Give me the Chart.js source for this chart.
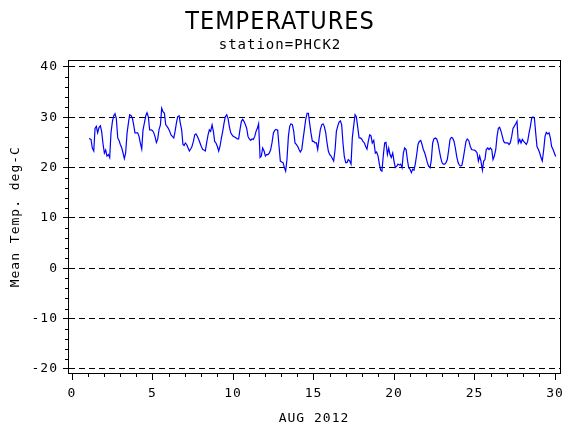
<!DOCTYPE html>
<html>
<head>
<meta charset="utf-8">
<script src="https://cdn.jsdelivr.net/npm/chart.js@4.4.1/dist/chart.umd.min.js"></script>
<style>
  html, body { margin: 0; padding: 0; background: #fff; }
  #chart { display: block; }
</style>
</head>
<body>
<canvas id="chart" width="570" height="430"></canvas>
<script>
// day of August 2012 (fractional) and mean temperature
const days = [
  1.06, 1.18, 1.26, 1.35, 1.43, 1.51, 1.59, 1.68, 1.76, 1.84,
  1.93, 2.01, 2.09, 2.17, 2.26, 2.34, 2.42, 2.51, 2.59, 2.67,
  2.75, 2.84, 2.92, 3.00, 3.09, 3.17, 3.25, 3.33, 3.42, 3.50,
  3.58, 3.67, 3.75, 3.83, 3.91, 4.08, 4.16, 4.24, 4.33, 4.41,
  4.49, 4.58, 4.66, 4.74, 4.82, 4.91, 4.99, 5.07, 5.16, 5.24,
  5.32, 5.40, 5.49, 5.57, 5.65, 5.74, 5.82, 5.90, 5.98, 6.07,
  6.15, 6.23, 6.32, 6.40, 6.48, 6.56, 6.65, 6.73, 6.81, 6.89,
  6.96, 7.04, 7.12, 7.21, 7.29, 7.37, 7.45, 7.54, 7.62, 7.70,
  7.79, 7.87, 7.95, 8.03, 8.12, 8.20, 8.28, 8.36, 8.45, 8.53,
  8.61, 8.70, 8.78, 8.86, 8.94, 9.03, 9.11, 9.19, 9.28, 9.36,
  9.44, 9.52, 9.61, 9.69, 9.77, 9.86, 9.94, 10.02, 10.10, 10.19,
  10.27, 10.35, 10.43, 10.52, 10.60, 10.68, 10.77, 10.85, 10.93, 11.01,
  11.10, 11.18, 11.26, 11.35, 11.43, 11.51, 11.59, 11.64, 11.68, 11.76,
  11.84, 11.93, 12.01, 12.09, 12.17, 12.26, 12.34, 12.42, 12.51, 12.59,
  12.67, 12.75, 12.78,
  12.86, 12.94, 13.02, 13.11, 13.19, 13.27, 13.35, 13.44, 13.52, 13.60,
  13.69, 13.77, 13.85, 13.93, 14.02, 14.10, 14.18, 14.27, 14.35, 14.43,
  14.51, 14.60, 14.68, 14.76, 14.84, 14.93, 15.01, 15.09, 15.18, 15.26,
  15.34, 15.42, 15.51, 15.59, 15.67, 15.76, 15.84, 15.92, 16.00, 16.09,
  16.17, 16.25, 16.34, 16.42, 16.50, 16.58, 16.67, 16.75, 16.83, 16.91,
  17.00, 17.08, 17.16, 17.25, 17.33, 17.41, 17.49, 17.58, 17.66, 17.74,
  17.83, 17.91, 17.99, 18.07, 18.16, 18.24, 18.32, 18.40, 18.49, 18.57,
  18.65, 18.74,
  18.84, 18.92, 19.01, 19.09, 19.17, 19.25, 19.34, 19.42, 19.50, 19.59,
  19.67, 19.75, 19.83, 19.92, 20.00, 20.08, 20.17, 20.25, 20.33, 20.41,
  20.50, 20.58, 20.66, 20.75, 20.83, 20.91, 20.99, 21.08, 21.16, 21.24,
  21.32, 21.41, 21.49, 21.57, 21.66, 21.74, 21.82, 21.91, 21.99, 22.07,
  22.15, 22.24, 22.32, 22.40, 22.48, 22.57, 22.65, 22.73, 22.82, 22.90,
  22.98, 23.06, 23.15, 23.23, 23.31, 23.40, 23.48, 23.56, 23.64, 23.73,
  23.81, 23.89, 23.98, 24.06, 24.14, 24.22, 24.31, 24.39, 24.47, 24.55,
  24.64,
  24.74, 24.82, 24.91, 24.99, 25.07, 25.16, 25.24, 25.32, 25.40, 25.49,
  25.57, 25.65, 25.73, 25.82, 25.90, 25.98, 26.07, 26.15, 26.23, 26.32,
  26.40, 26.48, 26.56, 26.65, 26.73, 26.81, 26.89, 26.98, 27.06, 27.14,
  27.22, 27.31, 27.39, 27.47, 27.56, 27.64, 27.72, 27.81, 27.89, 27.97,
  28.05, 28.14, 28.22, 28.30, 28.39, 28.47, 28.55, 28.63, 28.72, 28.80,
  28.88, 28.97, 29.05, 29.13, 29.21, 29.30, 29.38, 29.46, 29.55, 29.63,
  29.71, 29.79, 29.88, 29.96, 30.04
];
const temps = [
  25.8, 25.6, 23.9, 23.3, 27.8, 28.2, 26.9, 28.0, 28.3, 27.2,
  24.6, 22.9, 23.5, 22.3, 22.6, 22.0, 26.9, 29.2, 30.3, 30.7,
  29.8, 25.9, 25.4, 24.6, 23.9, 22.9, 21.8, 22.9, 26.9, 28.8,
  30.5, 30.3, 29.8, 28.5, 26.9, 26.9, 26.2, 24.9, 23.7, 27.5,
  28.8, 30.3, 30.9, 30.1, 27.5, 27.5, 27.4, 27.0, 26.1, 25.0,
  25.6, 27.5, 28.5, 31.8, 31.1, 30.8, 28.5, 28.2, 27.8, 27.2,
  26.5, 26.2, 25.9, 27.2, 28.8, 30.1, 30.3, 28.8, 27.5, 24.6,
  24.4, 24.9, 24.6, 23.9, 23.3, 23.7, 24.2, 25.2, 26.5, 26.7,
  26.2, 25.6, 24.9, 24.2, 23.6, 23.5, 23.3, 24.9, 26.5, 27.5,
  27.2, 28.5, 27.2, 25.2, 24.9, 24.2, 23.3, 24.2, 25.9, 27.2,
  28.8, 30.1, 30.5, 29.8, 28.2, 26.9, 26.5, 26.2, 26.1, 25.9,
  25.7, 25.7, 27.5, 29.2, 29.6, 29.2, 28.5, 27.8, 26.2, 25.7,
  25.4, 25.7, 25.6, 26.2, 27.2, 27.8, 28.7, 25.0, 22.0, 22.3,
  23.9, 23.3, 22.3, 22.6, 22.6, 22.9, 23.6, 24.9, 26.9, 27.4,
  27.6, 27.5, 27.2,
  24.2, 21.3, 21.1, 21.0, 20.0, 19.3, 21.6, 26.2, 28.2, 28.7,
  28.5, 27.2, 24.9, 24.6, 24.2, 23.6, 23.1, 23.6, 25.6, 27.5,
  29.5, 30.8, 30.8, 28.8, 26.9, 25.2, 25.2, 24.9, 24.9, 23.6,
  25.6, 27.5, 28.5, 28.7, 28.2, 26.9, 24.9, 23.3, 22.6, 22.3,
  21.8, 21.3, 23.6, 27.2, 28.2, 29.0, 29.3, 28.5, 24.9, 22.3,
  21.0, 21.0, 21.6, 21.3, 20.7, 25.9, 28.2, 30.5, 30.1, 28.2,
  25.9, 25.9, 25.7, 25.2, 24.9, 24.2, 23.7, 25.2, 26.5, 26.3,
  24.9, 25.4,
  22.9, 23.1, 22.3, 20.7, 19.5, 19.3, 22.6, 24.9, 25.0, 22.6,
  23.9, 22.6, 22.0, 22.9, 21.3, 20.0, 20.3, 20.7, 20.5, 20.7,
  20.0, 22.9, 23.9, 23.6, 21.6, 20.0, 19.7, 19.0, 19.7, 19.5,
  20.7, 22.6, 24.6, 25.2, 25.4, 24.6, 23.6, 22.9, 22.0, 21.0,
  20.3, 20.0, 21.6, 24.9, 25.7, 25.9, 25.7, 24.9, 23.3, 22.0,
  21.0, 20.7, 20.7, 21.0, 21.6, 23.6, 25.6, 26.0, 25.9, 25.2,
  23.9, 22.3, 21.0, 20.5, 20.3, 20.5, 22.0, 23.6, 25.2, 25.7,
  25.4,
  24.2, 23.6, 23.5, 23.5, 23.3, 22.9, 21.3, 22.3, 21.3, 19.5,
  21.3, 21.6, 23.6, 23.9, 23.6, 23.9, 23.6, 21.6, 22.3, 23.6,
  26.2, 27.8, 28.0, 27.2, 26.2, 25.2, 24.9, 24.9, 24.9, 24.6,
  24.9, 26.2, 27.8, 28.2, 28.7, 29.2, 24.9, 25.6, 24.9, 25.6,
  25.2, 24.9, 24.6, 25.2, 26.9, 28.2, 29.8, 30.1, 29.8, 26.9,
  24.2, 23.6, 22.9, 22.0, 21.3, 23.6, 26.2, 27.0, 26.7, 26.9,
  25.9, 24.2, 23.6, 22.9, 22.2
];
const xTicks = [0, 5, 10, 15, 20, 25, 30];
const yTicks = [-20, -10, 0, 10, 20, 30, 40];

const MONO = "'DejaVu Sans Mono', monospace";

// box round the plot area and the small in-between ticks
const frameAndMinorTicks = {
  id: "frameAndMinorTicks",
  beforeDraw(chart) {
    chart.ctx.letterSpacing = "1px";
  },
  afterDraw(chart) {
    const { ctx, chartArea: a, scales } = chart;
    ctx.save();
    ctx.strokeStyle = "#000";
    ctx.lineWidth = 1;
    ctx.setLineDash([]);
    ctx.strokeRect(
      Math.round(a.left) + 0.5,
      Math.round(a.top) + 0.5,
      Math.round(a.right - a.left),
      Math.round(a.bottom - a.top)
    );
    ctx.beginPath();
    for (let d = 1; d < 30; d++) {
      if (d % 5 === 0) continue;
      const px = Math.round(scales.x.getPixelForValue(d)) + 0.5;
      ctx.moveTo(px, a.bottom);
      ctx.lineTo(px, a.bottom + 4);
    }
    for (let v = -18; v < 40; v += 2) {
      if (v % 10 === 0) continue;
      const py = Math.round(scales.y.getPixelForValue(v)) + 0.5;
      ctx.moveTo(a.left - 3, py);
      ctx.lineTo(a.left, py);
    }
    ctx.stroke();
    ctx.restore();
  },
};

const points = days.map((d, i) => ({ x: d, y: temps[i] }));

new Chart(document.getElementById("chart"), {
  type: "line",
  data: {
    datasets: [
      {
        data: points,
        borderColor: "#0000ff",
        borderWidth: 1.2,
        pointRadius: 0,
        tension: 0,
      },
    ],
  },
  options: {
    responsive: false,
    animation: false,
    devicePixelRatio: 1,
    layout: { padding: { left: 0, right: 10, top: 0, bottom: 0 } },
    plugins: {
      legend: { display: false },
      tooltip: { enabled: false },
      title: {
        display: true,
        text: "TEMPERATURES",
        color: "#000",
        font: {
          family: "'DejaVu Sans Condensed', 'DejaVu Sans', sans-serif",
          size: 25,
          weight: "normal",
          lineHeight: 1.2,
        },
        padding: { top: 7, bottom: 0 },
      },
      subtitle: {
        display: true,
        text: "station=PHCK2",
        color: "#000",
        font: { family: MONO, size: 14, lineHeight: 1.1 },
        padding: { top: 1, bottom: 7 },
      },
    },
    scales: {
      x: {
        type: "linear",
        min: -0.25,
        max: 30.31,
        afterBuildTicks: (scale) => {
          scale.ticks = xTicks.map((v) => ({ value: v }));
        },
        afterFit: (scale) => {
          scale.height = 57;
        },
        grid: {
          drawOnChartArea: false,
          tickLength: 7,
          tickColor: "#000",
          color: "#000",
        },
        border: { display: true, color: "#000" },
        ticks: {
          color: "#000",
          font: { family: MONO, size: 13 },
          padding: 6,
          maxRotation: 0,
          autoSkip: false,
        },
        title: {
          display: true,
          text: "AUG 2012",
          color: "#000",
          font: { family: MONO, size: 13 },
          padding: { top: 4, bottom: 4 },
        },
      },
      y: {
        min: -20.8,
        max: 41.3,
        afterBuildTicks: (scale) => {
          scale.ticks = yTicks.map((v) => ({ value: v }));
        },
        afterFit: (scale) => {
          scale.width = 68;
        },
        grid: {
          color: "#000",
          lineWidth: 1,
          tickLength: 5,
          tickColor: "#000",
        },
        border: { display: true, color: "#000", dash: [6, 4] },
        ticks: {
          color: "#000",
          font: { family: MONO, size: 13 },
          padding: 5,
          autoSkip: false,
        },
        title: {
          display: true,
          text: "Mean Temp. deg-C",
          color: "#000",
          font: { family: MONO, size: 13 },
          padding: { top: 8, bottom: 0 },
        },
      },
    },
  },
  plugins: [frameAndMinorTicks],
});
</script>
</body>
</html>
